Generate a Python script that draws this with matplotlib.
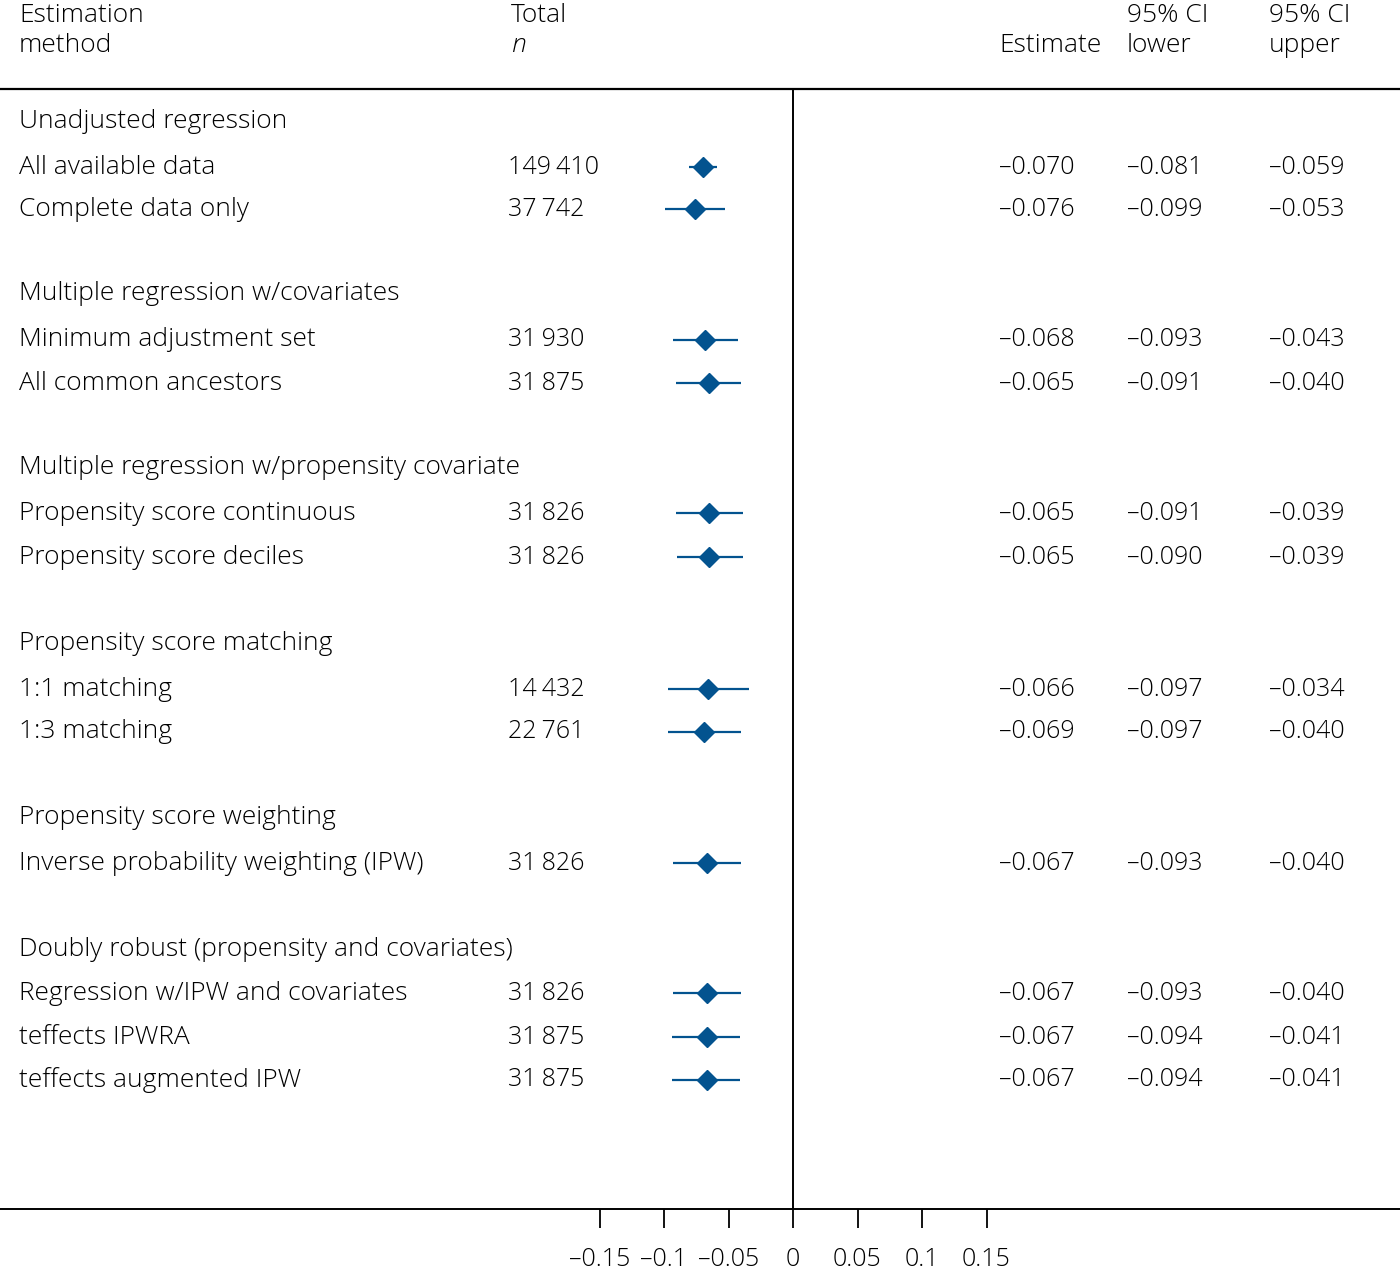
import matplotlib
matplotlib.use("Agg")
import matplotlib.pyplot as plt
import matplotlib.transforms as mtransforms

plt.rcParams['font.family'] = ['Open Sans', 'DejaVu Sans']
plt.rcParams['font.weight'] = 'light'

# ---------------- data ----------------
groups = ["Unadjusted regression",
          "Multiple regression w/covariates",
          "Multiple regression w/propensity covariate",
          "Propensity score matching",
          "Propensity score weighting",
          "Doubly robust (propensity and covariates)"]
methods = ["All available data", "Complete data only",
           "Minimum adjustment set", "All common ancestors",
           "Propensity score continuous", "Propensity score deciles",
           "1:1 matching", "1:3 matching",
           "Inverse probability weighting (IPW)",
           "Regression w/IPW and covariates", "teffects IPWRA",
           "teffects augmented IPW"]
method_group = [0, 0, 1, 1, 2, 2, 3, 3, 4, 5, 5, 5]
n_total = [149410, 37742, 31930, 31875, 31826, 31826, 14432, 22761,
           31826, 31826, 31875, 31875]
estimate = [-0.070, -0.076, -0.068, -0.065, -0.065, -0.065, -0.066, -0.069,
            -0.067, -0.067, -0.067, -0.067]
ci_lower = [-0.081, -0.099, -0.093, -0.091, -0.091, -0.090, -0.097, -0.097,
            -0.093, -0.093, -0.094, -0.094]
ci_upper = [-0.059, -0.053, -0.043, -0.040, -0.039, -0.039, -0.034, -0.040,
            -0.040, -0.040, -0.041, -0.041]
xticks = [-0.15, -0.1, -0.05, 0, 0.05, 0.1, 0.15]
xtick_labels = ["–0.15", "–0.1", "–0.05", "0", "0.05", "0.1", "0.15"]

# ---------------- layout (pixels) ----------------
W, H = 1400, 1275
zero_px, px_per_unit = 793, 1290
group_y = [122, 293, 467, 643, 818, 949]
row_y = [167, 209, 340, 383, 513, 557, 689, 732, 863, 993, 1037, 1080]
top_rule_y, axis_y = 89, 1209
col_label, col_n, col_est, col_lo, col_up = 19, 508, 999, 1127, 1269
FS = 19
FS_NUM = 18
BLUE = "#03538f"

fig = plt.figure(figsize=(W / 100, H / 100), dpi=100)
ax = fig.add_axes([0, 0, 1, 1])
ax.set_xlim(-zero_px / px_per_unit, (W - zero_px) / px_per_unit)
ax.set_ylim(H, 0)
for s in ["top", "left", "right"]:
    ax.spines[s].set_visible(False)
ax.spines["bottom"].set_position(("data", axis_y))
ax.spines["bottom"].set_linewidth(1.4)
ax.set_yticks([])
ax.set_xticks(xticks)
ax.set_xticklabels(xtick_labels)
ax.tick_params(axis="x", direction="out", length=14, width=1.3,
               labelsize=FS_NUM, pad=13, color="black")
ax.patch.set_alpha(0)

tx = mtransforms.blended_transform_factory(fig.transFigure, ax.transData)
def px(x):
    return x / W

def fmt(v):
    return ("–" if v < 0 else "") + f"{abs(v):.3f}"

def fmt_n(v):
    return f"{v:,}".replace(",", "\u2009")

hdr = dict(transform=tx, fontsize=FS, va="center", ha="left")
num = dict(transform=tx, fontsize=FS_NUM, va="center", ha="left")
ax.text(px(col_label), 15, "Estimation", **hdr)
ax.text(px(col_label), 46, "method", **hdr)
ax.text(px(col_n + 3), 15, "Total", **hdr)
ax.text(px(col_n + 3), 46, "n", style="italic", **hdr)
ax.text(px(col_est), 46, "Estimate", **hdr)
ax.text(px(col_lo), 15, "95% CI", **hdr)
ax.text(px(col_lo), 46, "lower", **hdr)
ax.text(px(col_up), 15, "95% CI", **hdr)
ax.text(px(col_up), 46, "upper", **hdr)

ax.axhline(top_rule_y, color="black", lw=1.6)
ax.plot([0, 0], [top_rule_y, axis_y], color="black", lw=1.4)

for g, y in zip(groups, group_y):
    ax.text(px(col_label), y, g, **hdr)

for i, m in enumerate(methods):
    y = row_y[i]
    ax.text(px(col_label), y, m, **hdr)
    ax.text(px(col_n), y, fmt_n(n_total[i]), **num)
    ax.text(px(col_est), y, fmt(estimate[i]), **num)
    ax.text(px(col_lo), y, fmt(ci_lower[i]), **num)
    ax.text(px(col_up), y, fmt(ci_upper[i]), **num)
    ax.plot([ci_lower[i], ci_upper[i]], [y, y], color=BLUE, lw=1.6,
            solid_capstyle="butt")
    ax.plot([estimate[i]], [y], marker="D", ms=10.5, color=BLUE, mec=BLUE)

fig.savefig("out.png", dpi=100)
